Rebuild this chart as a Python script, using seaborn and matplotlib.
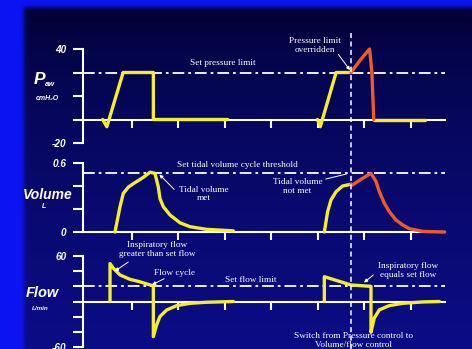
import numpy as np
import matplotlib
matplotlib.use("Agg")
import matplotlib.pyplot as plt
import seaborn as sns

# ---------------- waveform data (time in s) ----------------
# Airway pressure, cmH2O (schematic scale)
paw_a_t = [0.38, 0.47, 0.82, 1.47, 1.47, 3.07]
paw_a_v = [-5, -9.6, 25, 25, -5, -5]
paw_b_t = [5.00, 5.06, 5.40, 5.72]
paw_b_v = [-5, -9.6, 25, 25]
paw_over_t = [5.72, 5.92, 6.12, 6.17, 6.21]
paw_over_v = [25, 33, 40, 25, -5]
paw_c_t = [6.21, 7.32]
paw_c_v = [-5, -5]

# Volume, L
vol_a_t = [0.645, 0.753, 0.824, 0.932, 1.039, 1.254, 1.398, 1.505, 1.577,
           1.613, 1.685, 1.828, 2.043, 2.258, 2.616, 3.19]
vol_a_v = [0.0, 0.22, 0.336, 0.39, 0.42, 0.475, 0.52, 0.51, 0.39,
           0.29, 0.22, 0.148, 0.08, 0.046, 0.023, 0.01]
vol_b_t = [5.147, 5.218, 5.29, 5.398, 5.54, 5.72]
vol_b_v = [0.0, 0.177, 0.278, 0.35, 0.40, 0.415]
vol_over_t = [5.72, 5.757, 5.935, 6.15, 6.258, 6.33, 6.437, 6.545, 6.688,
              6.832, 6.975, 7.26, 7.73]
vol_over_v = [0.415, 0.41, 0.458, 0.51, 0.44, 0.35, 0.25, 0.177, 0.104,
              0.061, 0.029, 0.005, 0.0]

# Flow, L/min
flow_a_t = [0.538, 0.538, 0.61, 0.753, 0.968, 1.18, 1.47, 1.47, 1.54, 1.61,
            1.756, 1.97, 2.26, 2.61, 3.19]
flow_a_v = [0, 50, 43.8, 35, 29.2, 26, 20.5, -46.4, -31, -20,
            -11.2, -5.5, -2.4, -1, 0]
flow_b_t = [5.147, 5.147, 5.72, 6.15, 6.15, 6.22, 6.33, 6.54, 6.83, 7.26, 7.62]
flow_b_v = [0, 32.7, 21.8, 20, -40.6, -22, -11, -5.5, -2.4, -0.6, 0]

# Settings
pressure_limit = 25
tidal_threshold = 0.51
flow_limit = 20
switch_time = 5.72

# Axis ticks
paw_ticks = [-20, -5, 10, 25, 40]
paw_ticklabels = ["-20", "", "", "", "40"]
vol_ticks = [0, 0.2, 0.4, 0.6]
vol_ticklabels = ["0", "", "", "0.6"]
flow_ticks = [-60, -40, -20, 0, 20, 40, 60]
flow_ticklabels = ["-60", "", "", "", "", "", "60"]
time_ticks = [1, 2, 3, 4, 5, 6, 7]

# ---------------- styling ----------------
W, H = 472, 349
YELLOW = "#F4EE2C"
RED = "#EE5A2A"
WHITE = "white"
BORDER = np.array([0x0B, 0x14, 0xF2]) / 255
SERIF = "Liberation Serif"
SANS = "Liberation Sans"

sns.set_theme(style="white")
plt.rcParams["font.family"] = ["DejaVu Sans"]

fig = plt.figure(figsize=(W / 100, H / 100), dpi=100)

# Background: bright blue frame and a dark-navy vertical gradient panel
yy, xx = np.mgrid[0:H, 0:W].astype(float)
frac = np.clip((yy - 7) / (H - 7), 0, 1) ** 0.55
top = np.array([0x00, 0x00, 0x2C]) / 255
bot = np.array([0x0C, 0x0C, 0x86]) / 255
panel = top[None, None, :] * (1 - frac[..., None]) + bot[None, None, :] * frac[..., None]
w = (1 / (1 + np.exp(-(xx - 23.5) / 1.2))) * (1 / (1 + np.exp(-(yy - 7.0) / 1.2)))
img = panel * w[..., None] + BORDER[None, None, :] * (1 - w[..., None])
ax_bg = fig.add_axes([0, 0, 1, 1], zorder=0)
ax_bg.imshow(img, extent=[0, W, H, 0], aspect="auto", interpolation="bilinear")
ax_bg.set_axis_off()

XL = (-85 / 46.5, (W - 85) / 46.5)


def make_axes(py0, py1, ylim):
    ax = fig.add_axes([0, 1 - py1 / H, 1, (py1 - py0) / H], zorder=2)
    ax.set_facecolor("none")
    ax.set_xlim(*XL)
    ax.set_ylim(*ylim)
    return ax


ax_p = make_axes(0, 150, (40 - 101 / 1.5667, 40 + 49 / 1.5667))
ax_v = make_axes(150, 238, (-6 / 115, 82 / 115))
ax_f = make_axes(238, 349, ((301.5 - 349) / 0.7583, (301.5 - 238) / 0.7583))


def style_axis(ax, baseline, yticks, ylabels):
    for s in ("top", "right"):
        ax.spines[s].set_visible(False)
    for s in ("left", "bottom"):
        ax.spines[s].set_color(WHITE)
        ax.spines[s].set_linewidth(1.5)
    ax.spines["left"].set_position(("data", -0.05))
    ax.spines["left"].set_bounds(min(yticks), max(yticks))
    ax.spines["bottom"].set_position(("data", baseline))
    ax.spines["bottom"].set_bounds(-0.05, 7.74)
    ax.set_yticks(yticks)
    ax.set_yticklabels(ylabels)
    ax.set_xticks(time_ticks)
    ax.set_xticklabels([])
    ax.tick_params(axis="y", direction="out", length=7.5, width=1.5,
                   color=WHITE, labelcolor=WHITE, pad=4, left=True)
    ax.tick_params(axis="x", direction="out", length=5.5, width=1.5,
                   color=WHITE, bottom=True)
    for lab in ax.get_yticklabels():
        lab.set_fontfamily(SANS)
        lab.set_fontweight("bold")
        lab.set_fontstyle("italic")
        lab.set_fontsize(7.2)
    ax.set_xlabel("")
    ax.set_ylabel("")


def trace(ax, t, v, color):
    sns.lineplot(x=t, y=v, ax=ax, color=color, lw=2.4, sort=False,
                 estimator=None, legend=False, zorder=4,
                 solid_joinstyle="round")


DASHDOT = (0, (6.5, 2.2, 1.5, 2.2))

# ---- pressure ----
ax_p.hlines(pressure_limit, -0.05, 7.74, color=WHITE, lw=1.3, linestyles=[DASHDOT], zorder=3)
trace(ax_p, paw_a_t, paw_a_v, YELLOW)
trace(ax_p, paw_b_t, paw_b_v, YELLOW)
trace(ax_p, paw_c_t, paw_c_v, YELLOW)
trace(ax_p, paw_over_t, paw_over_v, RED)
style_axis(ax_p, -5, paw_ticks, paw_ticklabels)

# ---- volume ----
ax_v.hlines(tidal_threshold, -0.05, 7.74, color=WHITE, lw=1.3, linestyles=[DASHDOT], zorder=3)
trace(ax_v, vol_a_t, vol_a_v, YELLOW)
trace(ax_v, vol_b_t, vol_b_v, YELLOW)
trace(ax_v, vol_over_t, vol_over_v, RED)
style_axis(ax_v, 0, vol_ticks, vol_ticklabels)

# ---- flow ----
ax_f.hlines(flow_limit, -0.05, 7.74, color=WHITE, lw=1.3, linestyles=[DASHDOT], zorder=3)
trace(ax_f, flow_a_t, flow_a_v, YELLOW)
trace(ax_f, flow_b_t, flow_b_v, YELLOW)
style_axis(ax_f, 0, flow_ticks, flow_ticklabels)

# switch-over marker crossing all three traces
ax_all = fig.add_axes([0, 0, 1, 1], zorder=3)
ax_all.set_facecolor("none")
ax_all.set_xlim(*XL)
ax_all.set_ylim(0, 1)
ax_all.set_axis_off()
ax_all.vlines(switch_time, 0, 1 - 30 / H, color=WHITE, lw=1.1,
              linestyles=[(0, (3.3, 2.2))])

# ---------------- annotations ----------------
note = dict(color=WHITE, fontfamily=SERIF, fontsize=6.7, ha="center",
            va="center", linespacing=1.15, zorder=6)
arrow = dict(arrowstyle="-|>", color=WHITE, lw=0.7, mutation_scale=5,
             shrinkA=0, shrinkB=0)

ax_p.text(2.97, 31, "Set pressure limit", **note)
ax_p.text(4.95, 42.5, "Pressure limit\noverridden", **note)
ax_p.annotate("", xy=(5.70, 26.5), xytext=(5.45, 36.5), arrowprops=arrow, zorder=6)

ax_v.text(3.27, 0.585, "Set tidal volume cycle threshold", **note)
ax_v.text(2.56, 0.33, "Tidal volume\nmet", **note)
ax_v.annotate("", xy=(1.6, 0.50), xytext=(1.92, 0.37), arrowprops=arrow, zorder=6)
ax_v.text(4.57, 0.395, "Tidal volume\nnot met", **note)
ax_v.annotate("", xy=(5.68, 0.51), xytext=(5.12, 0.455),
              arrowprops=dict(arrowstyle="-", color=WHITE, lw=0.7), zorder=6)

ax_f.text(1.56, 69, "Inspiratory flow\ngreater than set flow", **note)
ax_f.annotate("", xy=(0.64, 40), xytext=(0.93, 52), arrowprops=arrow, zorder=6)
ax_f.text(1.93, 37.6, "Flow cycle", **note)
ax_f.annotate("", xy=(1.44, 22), xytext=(1.70, 30), arrowprops=arrow, zorder=6)
ax_f.text(3.57, 28, "Set flow limit", **note)
ax_f.text(6.95, 40.9, "Inspiratory flow\nequals set flow", **note)
ax_f.annotate("", xy=(6.0, 25), xytext=(6.2, 35), arrowprops=arrow, zorder=6)
ax_f.text(5.78, -51.5, "Switch from Pressure control to\nVolume/flow control", **note)

# ---------------- left-hand channel labels ----------------
def fig_text(px, py, s, **kw):
    fig.text(px / W, 1 - py / H, s, color=WHITE, fontfamily=SANS,
             fontweight="bold", fontstyle="italic", ha="center", va="center",
             zorder=6, **kw)


fig_text(39.5, 79.5, "P", fontsize=12.5)
fig_text(50.5, 84, "aw", fontsize=5.5)
fig_text(47, 99, "cmH\u2082O", fontsize=5)
fig_text(47.5, 195, "Volume", fontsize=10)
fig_text(44.5, 207, "L", fontsize=5)
fig_text(42, 293, "Flow", fontsize=10.5)
fig_text(40.5, 308, "L/min", fontsize=4.5)

fig.savefig("out.png", dpi=100)
